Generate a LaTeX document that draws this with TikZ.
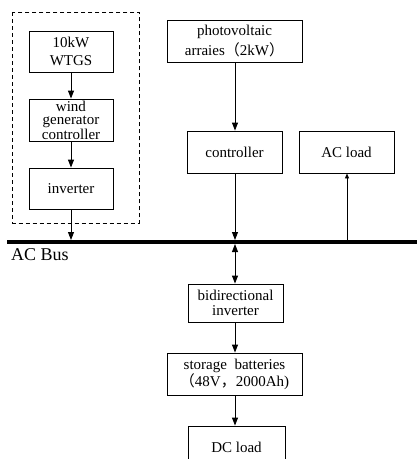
\documentclass[tikz,border=0pt]{standalone}
\usepackage{fontspec}
\setmainfont{Liberation Serif}
\newfontfamily\cjk{Noto Sans CJK SC}
\usetikzlibrary{arrows.meta}
\begin{document}
\begin{tikzpicture}[x=1pt,y=-1pt,
  box/.style={draw,line width=0.9pt,align=center,inner sep=0pt,font=\fontsize{15}{17}\selectfont},
  conn/.style={line width=0.9pt,-{Triangle[length=8pt,width=6pt]}},
  small/.style={line width=0.9pt,-{Triangle[length=5pt,width=4pt]}}]
\useasboundingbox (0,0) rectangle (417,459);
% dashed group
\draw[dashed,dash pattern=on 4pt off 3pt,line width=0.9pt] (12.7,12) rectangle (139,223);
% nodes
\node[box,minimum width=84pt,minimum height=41pt,font=\fontsize{15}{18}\selectfont] (wtgs) at (71,51.5) {10kW\\WTGS};
\node[box,minimum width=84pt,minimum height=42pt,font=\fontsize{15}{13.6}\selectfont] (wgc) at (71,120) {wind\\generator\\controller};
\node[box,minimum width=84pt,minimum height=41pt] (inv) at (71,188.5) {inverter};
\node[box,minimum width=135pt,minimum height=42pt,font=\fontsize{15}{20}\selectfont] (pv) at (234.5,41) {photovoltaic\\arraies{\cjk （}2kW{\cjk ）}};
\node[box,minimum width=95pt,minimum height=42pt] (ctrl) at (234.5,152) {controller};
\node[box,minimum width=95pt,minimum height=42pt] (acl) at (346.5,152) {AC load};
\node[box,minimum width=95pt,minimum height=38pt,font=\fontsize{15}{14.5}\selectfont] (bid) at (235.5,303) {bidirectional\\inverter};
\node[box,minimum width=135pt,minimum height=42pt,font=\fontsize{15}{17}\selectfont] (stor) at (234.5,374) {storage\ \ batteries\\{\cjk （}48V{\cjk ，}2000Ah)};
\node[box,minimum width=97pt,minimum height=42pt] (dc) at (236.5,447) {DC load};
% bus
\draw[line width=4pt] (7,242) -- (417,242);
\node[anchor=west,inner sep=0pt,font=\fontsize{18}{20}\selectfont] (acbus) at (11,255) {AC Bus};
\coordinate (b1) at (71,240);
\coordinate (b2) at (235,240);
\coordinate (b3) at (235,244);
\coordinate (b4) at (347,240);
% connectors
\draw[conn] (wtgs) -- (wgc);
\draw[conn] (wgc) -- (inv);
\draw[conn] (inv) -- (b1);
\draw[conn] (pv.south -| 235,0) -- (ctrl.north -| 235,0);
\draw[conn] (ctrl.south -| 235,0) -- (b2);
\draw[small] (b4) -- (acl.south -| b4);
\draw[line width=0.9pt,{Triangle[length=8pt,width=6pt]}-{Triangle[length=8pt,width=6pt]}] (b3) -- (bid.north -| b3);
\draw[conn] (bid.south -| b3) -- (stor.north -| b3);
\draw[conn] (stor.south -| b3) -- (dc.north -| b3);
\end{tikzpicture}
\end{document}
